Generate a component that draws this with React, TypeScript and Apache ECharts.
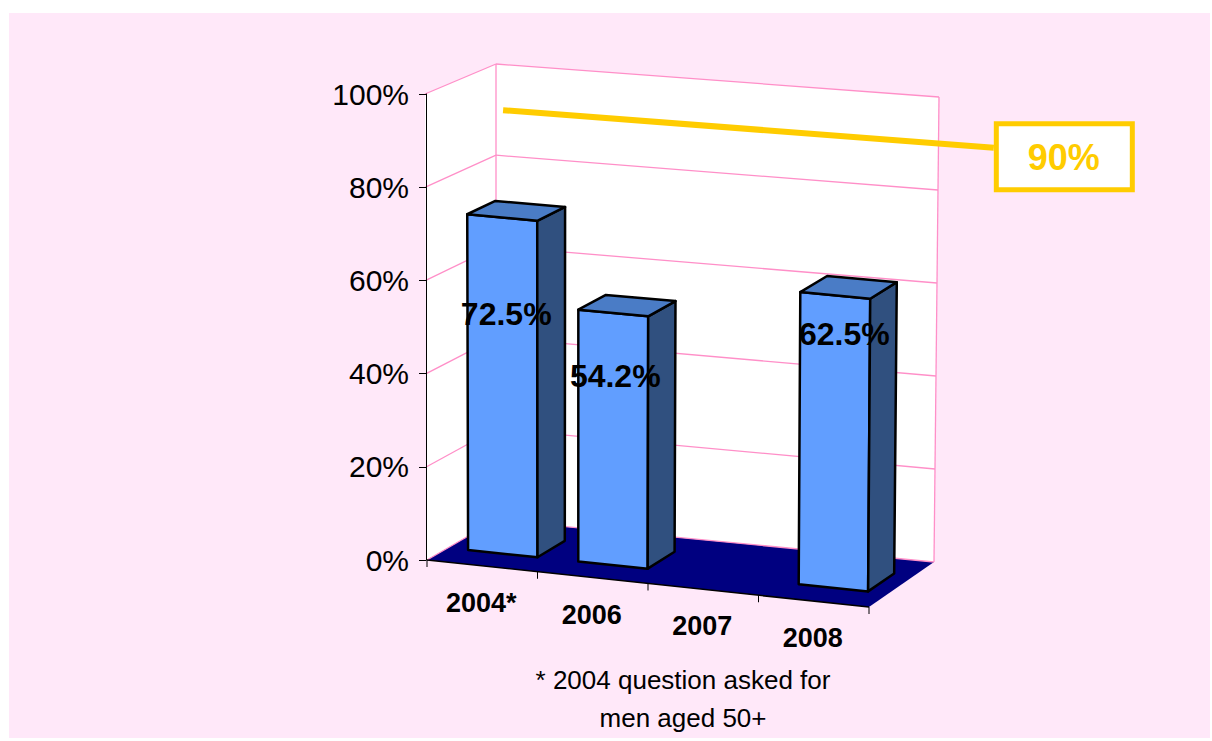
import React, { useEffect, useRef } from 'react';
import * as echarts from 'echarts';

// ---------- data ----------
const categories = ['2004*', '2006', '2007', '2008'];
const values: (number | null)[] = [72.5, 54.2, null, 62.5];
const yTicks = [0, 20, 40, 60, 80, 100];
const yMax = 100;
const targetValue = 90;
const targetLabel = '90%';
const footnoteLines = ['* 2004 question asked for', 'men aged 50+'];

// ---------- layout / style ----------
const FONT = '"Liberation Sans", Arial, sans-serif';
const GRID = { left: 427, top: 94, width: 442, height: 466 };
// perspective: corner offsets of the 3D box relative to the grid rectangle corners
const BOX = {
  f0: [0, 0], f1: [0, 47], b0: [69, -40], b1: [65, 2],
  f0t: [-2, 0], f1t: [3, 43], b0t: [69, -30], b1t: [70, 3],
};
const DEPTH_FRONT = 0.3;
const DEPTH_BACK = 0.7;
const BAR_RATIO = 0.63;
// manual placement of the value labels (px from the bar's front-top centre)
const labelNudge: number[][] = [[4, 96], [2, 63], [0, 0], [9, 39]];
const GRID_COLOR = '#FF8FC8';
const YELLOW = '#FFCC00';

function projector(api: any) {
  const c0 = api.coord([0, 0]);
  const cw = api.size([1, 0])[0];
  const L = c0[0] - cw / 2;
  const W = cw * categories.length;
  const B = c0[1];
  const T = api.coord([0, yMax])[1];
  const f0 = [L + BOX.f0[0], B + BOX.f0[1]];
  const f1 = [L + W + BOX.f1[0], B + BOX.f1[1]];
  const b0 = [L + BOX.b0[0], B + BOX.b0[1]];
  const b1 = [L + W + BOX.b1[0], B + BOX.b1[1]];
  const f0t = [L + BOX.f0t[0], T + BOX.f0t[1]];
  const f1t = [L + W + BOX.f1t[0], T + BOX.f1t[1]];
  const b0t = [L + BOX.b0t[0], T + BOX.b0t[1]];
  const b1t = [L + W + BOX.b1t[0], T + BOX.b1t[1]];
  const bil = (a: number[], b: number[], c: number[], d: number[], u: number, v: number) => [
    (1 - u) * (1 - v) * a[0] + u * (1 - v) * b[0] + (1 - u) * v * c[0] + u * v * d[0],
    (1 - u) * (1 - v) * a[1] + u * (1 - v) * b[1] + (1 - u) * v * c[1] + u * v * d[1],
  ];
  const P = (u: number, v: number, h: number) => {
    const lo = bil(f0, f1, b0, b1, u, v);
    const hi = bil(f0t, f1t, b0t, b1t, u, v);
    return [lo[0] + h * (hi[0] - lo[0]), lo[1] + h * (hi[1] - lo[1])];
  };
  const uOf = (x: number) => (x - L) / W;
  const hOf = (y: number) => (B - y) / (B - T);
  return { P, uOf, hOf, cw, W };
}

const poly = (pts: number[][], fill: string, stroke?: string, lw?: number) => ({
  type: 'polygon',
  shape: { points: pts },
  style: stroke ? { fill, stroke, lineWidth: lw, lineJoin: 'round' } : { fill },
});
const seg = (a: number[], b: number[], stroke: string, lw: number) => ({
  type: 'line',
  shape: { x1: a[0], y1: a[1], x2: b[0], y2: b[1] },
  style: { stroke, lineWidth: lw },
});

export default function App() {
  const ref = useRef<HTMLDivElement>(null);
  useEffect(() => {
    if (!ref.current) return;
    const chart = echarts.init(ref.current, undefined, { renderer: 'svg' });

    const sceneRender = (_params: any, api: any) => {
      const { P, uOf, hOf, cw } = projector(api);
      const ch: any[] = [];
      ch.push(poly([P(0, 0, 0), P(0, 1, 0), P(0, 1, 1), P(0, 0, 1)], '#FFFFFF'));
      ch.push(poly([P(0, 1, 0), P(1, 1, 0), P(1, 1, 1), P(0, 1, 1)], '#FFFFFF'));
      ch.push(poly([P(0, 0, 0), P(1, 0, 0), P(1, 1, 0), P(0, 1, 0)], '#000080'));
      yTicks.forEach((t) => {
        const h = hOf(api.coord([0, t])[1]);
        ch.push(seg(P(0, 0, h), P(0, 1, h), GRID_COLOR, 1.3));
        ch.push(seg(P(0, 1, h), P(1, 1, h), GRID_COLOR, 1.3));
      });
      ch.push(seg(P(0, 1, 0), P(0, 1, 1), GRID_COLOR, 1.3));
      ch.push(seg(P(1, 1, 0), P(1, 1, 1), GRID_COLOR, 1.3));
      // front category axis
      ch.push(seg(P(0, 0, 0), P(1, 0, 0), '#000000', 1.5));
      const bounds: number[] = categories.map((_, i) => uOf(api.coord([i, 0])[0] - cw / 2));
      bounds.push(uOf(api.coord([categories.length - 1, 0])[0] + cw / 2));
      bounds.forEach((u) => {
        const p = P(u, 0, 0);
        ch.push(seg(p, [p[0], p[1] + 7], '#000000', 1));
      });
      categories.forEach((c, i) => {
        const p = P(uOf(api.coord([i, 0])[0]), 0, 0);
        ch.push({
          type: 'text',
          style: {
            text: c, x: p[0] - 1, y: p[1] + 37, fill: '#000',
            font: `bold 27px ${FONT}`, align: 'center', verticalAlign: 'middle',
          },
        });
      });
      // target line on the back wall
      const ht = hOf(api.coord([0, targetValue])[1]);
      const a = P(0.016, 1, ht);
      const b = P(1.125, 1, ht);
      ch.push(seg(a, b, YELLOW, 6));
      ch.push({
        type: 'rect',
        shape: { x: b[0] + 2.5, y: b[1] - 24, width: 136, height: 66 },
        style: { fill: '#FFFFFF', stroke: YELLOW, lineWidth: 5 },
      });
      ch.push({
        type: 'text',
        style: {
          text: targetLabel, x: b[0] + 70, y: b[1] + 10, fill: YELLOW,
          font: `bold 36px ${FONT}`, align: 'center', verticalAlign: 'middle',
        },
      });
      return { type: 'group', children: ch };
    };

    const barRender = (_params: any, api: any) => {
      const v = api.value(1);
      if (v == null || isNaN(v)) return null;
      const idx = api.value(0);
      const { P, uOf, hOf, cw, W } = projector(api);
      const c = api.coord([idx, v]);
      const uc = uOf(c[0]);
      const h = hOf(c[1]);
      const hw = (BAR_RATIO * cw) / W / 2;
      const u0 = uc - hw, u1 = uc + hw, vf = DEPTH_FRONT, vb = DEPTH_BACK;
      const top = P(uc, vf, h);
      const nudge = labelNudge[idx] || [0, 0];
      return {
        type: 'group',
        children: [
          poly([P(u0, vf, 0), P(u1, vf, 0), P(u1, vf, h), P(u0, vf, h)], '#619EFF', '#000', 2.5),
          poly([P(u1, vf, 0), P(u1, vb, 0), P(u1, vb, h), P(u1, vf, h)], '#30507F', '#000', 2.5),
          poly([P(u0, vf, h), P(u1, vf, h), P(u1, vb, h), P(u0, vb, h)], '#4A7CC6', '#000', 2.5),
          {
            type: 'text',
            style: {
              text: `${v}%`, x: top[0] + nudge[0], y: top[1] + nudge[1], fill: '#000',
              font: `bold 32px ${FONT}`, align: 'center', verticalAlign: 'middle',
            },
          },
        ],
      };
    };

    chart.setOption({
      animation: false,
      backgroundColor: '#FFFFFF',
      grid: { left: GRID.left, top: GRID.top, width: GRID.width, height: GRID.height },
      xAxis: { type: 'category', data: categories, show: false, boundaryGap: true },
      yAxis: {
        type: 'value', min: 0, max: yMax, interval: 20, offset: 1, z: 10,
        axisLine: { show: true, lineStyle: { color: '#000', width: 1 } },
        axisTick: { show: true, length: 7, lineStyle: { color: '#000' } },
        axisLabel: { formatter: '{value}%', fontSize: 30, fontFamily: FONT, color: '#000', margin: 17 },
        splitLine: { show: false },
      },
      graphic: [
        { type: 'rect', z: -10, shape: { x: 9, y: 13, width: 1201, height: 725 }, style: { fill: '#FFE8F9' } },
        ...footnoteLines.map((t, i) => ({
          type: 'text', z: 10,
          style: {
            text: t, x: 683, y: 680 + i * 38, fill: '#000',
            font: `26px ${FONT}`, align: 'center', verticalAlign: 'middle',
          },
        })),
      ],
      series: [
        { type: 'custom', z: 1, renderItem: sceneRender, data: [[0, 0]], silent: true },
        {
          type: 'custom', z: 3, renderItem: barRender, silent: true,
          data: values.map((v, i) => [i, v]).filter((d) => d[1] != null),
        },
      ],
    });
    return () => chart.dispose();
  }, []);
  return (
    <div
      ref={ref}
      style={{ position: 'absolute', left: 0, top: 0, width: 1212, height: 741 }}
    />
  );
}
